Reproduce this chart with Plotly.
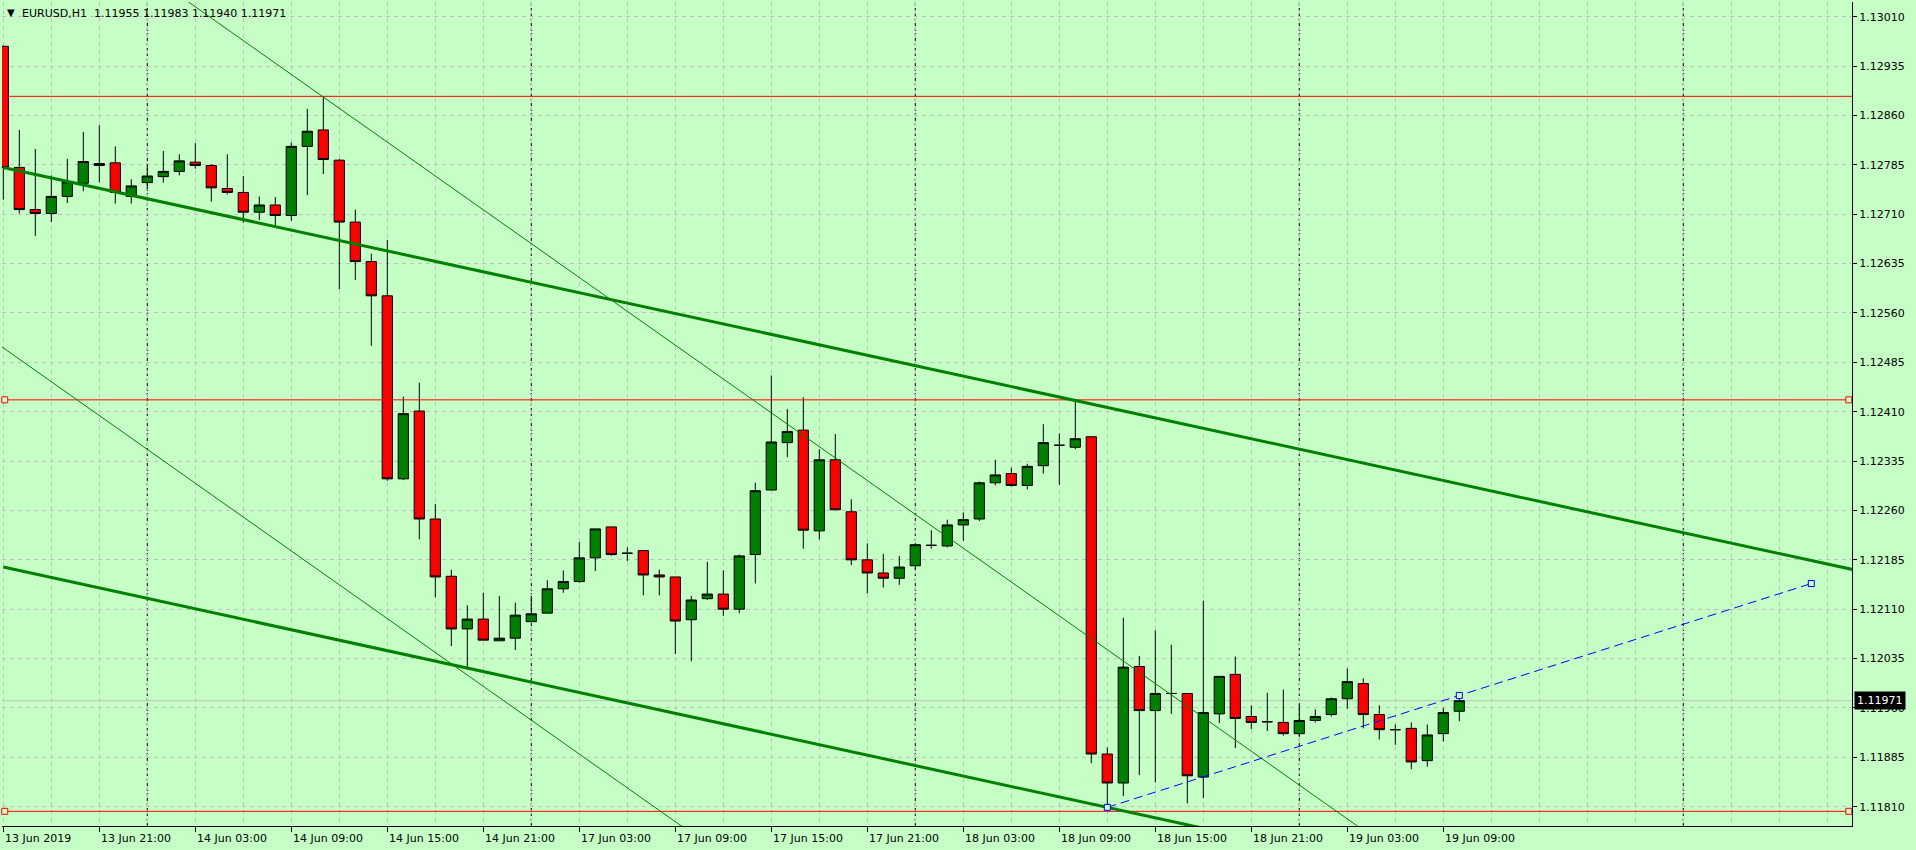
import plotly.graph_objects as go

# ---------------- data ----------------
bar_index = list(range(92))

opens = [1.12965, 1.12781, 1.12717, 1.12711, 1.12737, 1.12757, 1.12787, 1.12788, 1.12737, 1.12758,
         1.12767, 1.12775, 1.12789, 1.12784, 1.12749, 1.12743, 1.12713, 1.12724, 1.12708, 1.12813,
         1.12838, 1.12792, 1.12698, 1.12638, 1.12586, 1.12308, 1.12411, 1.12247, 1.12160, 1.12080,
         1.12095, 1.12062, 1.12066, 1.12091, 1.12104, 1.12141, 1.12152, 1.12188, 1.12235, 1.12195,
         1.12199, 1.12162, 1.12159, 1.12094, 1.12126, 1.12133, 1.12110, 1.12193, 1.12291, 1.12363,
         1.12382, 1.12229, 1.12337, 1.12258, 1.12185, 1.12165, 1.12157, 1.12176, 1.12207, 1.12206,
         1.12238, 1.12247, 1.12302, 1.12316, 1.12298, 1.12328, 1.12359, 1.12356, 1.12372, 1.11890,
         1.11846, 1.12023, 1.11956, 1.11982, 1.11982, 1.11855, 1.11951, 1.12011, 1.11947, 1.11939,
         1.11938, 1.11921, 1.11941, 1.11950, 1.11974, 1.11997, 1.11950, 1.11927, 1.11929, 1.11880,
         1.11921, 1.11955]
highs = [1.12966, 1.12838, 1.12809, 1.12769, 1.12794, 1.12835, 1.12845, 1.12813, 1.12763, 1.12786,
         1.12806, 1.12801, 1.12818, 1.12786, 1.12801, 1.12768, 1.12737, 1.12736, 1.12819, 1.12870,
         1.12888, 1.12794, 1.12717, 1.12650, 1.12671, 1.12433, 1.12454, 1.12270, 1.12170, 1.12116,
         1.12135, 1.12130, 1.12120, 1.12130, 1.12154, 1.12169, 1.12212, 1.12232, 1.12235, 1.12204,
         1.12200, 1.12170, 1.12159, 1.12130, 1.12182, 1.12169, 1.12193, 1.12302, 1.12465, 1.12414,
         1.12432, 1.12353, 1.12376, 1.12277, 1.12210, 1.12194, 1.12191, 1.12208, 1.12230, 1.12246,
         1.12257, 1.12304, 1.12337, 1.12325, 1.12331, 1.12391, 1.12377, 1.12428, 1.12373, 1.11900,
         1.12097, 1.12039, 1.12078, 1.12056, 1.11982, 1.12123, 1.12008, 1.12038, 1.11964, 1.11983,
         1.11988, 1.11965, 1.11958, 1.11976, 1.12020, 1.12005, 1.11964, 1.11935, 1.11938, 1.11935,
         1.11960, 1.11983]
lows = [1.12732, 1.12711, 1.12677, 1.12698, 1.12727, 1.12745, 1.12758, 1.12726, 1.12726, 1.12748,
        1.12758, 1.12769, 1.12779, 1.12729, 1.12740, 1.12697, 1.12701, 1.12692, 1.12700, 1.12739,
        1.12771, 1.12596, 1.12610, 1.12510, 1.12305, 1.12306, 1.12216, 1.12128, 1.12054, 1.12019,
        1.12063, 1.12062, 1.12048, 1.12091, 1.12104, 1.12135, 1.12150, 1.12168, 1.12191, 1.12183,
        1.12131, 1.12131, 1.12042, 1.12031, 1.12124, 1.12100, 1.12104, 1.12149, 1.12291, 1.12341,
        1.12202, 1.12216, 1.12261, 1.12177, 1.12134, 1.12143, 1.12147, 1.12171, 1.12202, 1.12204,
        1.12214, 1.12244, 1.12298, 1.12296, 1.12292, 1.12316, 1.12299, 1.12353, 1.11876, 1.11809,
        1.11826, 1.11858, 1.11847, 1.11951, 1.11815, 1.11823, 1.11937, 1.11899, 1.11928, 1.11925,
        1.11918, 1.11916, 1.11938, 1.11947, 1.11959, 1.11929, 1.11912, 1.11904, 1.11867, 1.11871,
        1.11909, 1.11940]
closes = [1.12781, 1.12717, 1.12711, 1.12737, 1.12759, 1.12790, 1.12784, 1.12743, 1.12753, 1.12768,
          1.12775, 1.12791, 1.12784, 1.12750, 1.12743, 1.12713, 1.12724, 1.12708, 1.12813, 1.12836,
          1.12793, 1.12698, 1.12638, 1.12586, 1.12308, 1.12407, 1.12247, 1.12159, 1.12080, 1.12095,
          1.12063, 1.12066, 1.12101, 1.12103, 1.12141, 1.12152, 1.12188, 1.12232, 1.12193, 1.12195,
          1.12162, 1.12159, 1.12092, 1.12124, 1.12133, 1.12110, 1.12191, 1.12290, 1.12364, 1.12380,
          1.12230, 1.12337, 1.12261, 1.12185, 1.12165, 1.12157, 1.12174, 1.12208, 1.12207, 1.12238,
          1.12246, 1.12302, 1.12314, 1.12298, 1.12327, 1.12363, 1.12359, 1.12369, 1.11890, 1.11846,
          1.12022, 1.11956, 1.11982, 1.11982, 1.11857, 1.11953, 1.12008, 1.11944, 1.11938, 1.11939,
          1.11921, 1.11941, 1.11947, 1.11974, 1.12000, 1.11950, 1.11927, 1.11927, 1.11878, 1.11919,
          1.11953, 1.11971]

price_ticks = [1.13010, 1.12935, 1.12860, 1.12785, 1.12710, 1.12635, 1.12560, 1.12485, 1.12410,
               1.12335, 1.12260, 1.12185, 1.12110, 1.12035, 1.11960, 1.11885, 1.11810]
time_tick_index = [0, 6, 12, 18, 24, 30, 36, 42, 48, 54, 60, 66, 72, 78, 84, 90]
time_tick_labels = ["13 Jun 2019", "13 Jun 21:00", "14 Jun 03:00", "14 Jun 09:00", "14 Jun 15:00",
                    "14 Jun 21:00", "17 Jun 03:00", "17 Jun 09:00", "17 Jun 15:00", "17 Jun 21:00",
                    "18 Jun 03:00", "18 Jun 09:00", "18 Jun 15:00", "18 Jun 21:00", "19 Jun 03:00",
                    "19 Jun 09:00"]
day_separator_index = [9, 33, 57, 81, 105]

hline_levels = [1.12889, 1.12428, 1.11803]
hline_selected = [False, True, True]

# trend lines: two anchor points (bar index, price)
channel_upper_x = [0, 67]
channel_upper_y = [1.12781, 1.12427]
channel_lower_x = [0, 69]
channel_lower_y = [1.12174, 1.11809]
thin_a_x = [20, 50]
thin_a_y = [1.12888, 1.12374]
thin_b_x = [0, 29]
thin_b_y = [1.12507, 1.12010]
blue_x = [69, 113]
blue_y = [1.11809, 1.12149]

symbol = "EURUSD,H1"

# ---------------- styling ----------------
BG = "#C6FFC6"
GRID = "#C0C0C0"
FONT = "DejaVu Sans"
W, H = 1916, 850
ML, MR, MT, MB = 2, 64, 2, 24
BAR_PX = 16.0
FIRST_BAR_PX = 3.3
x_lo = -(FIRST_BAR_PX - ML) / BAR_PX
x_hi = x_lo + (W - ML - MR) / BAR_PX
y_lo, y_hi = 1.117807, 1.130323


def ray(xs, ys, xa, xb):
    k = (ys[1] - ys[0]) / (xs[1] - xs[0])
    return [xa, xb], [ys[0] + k * (xa - xs[0]), ys[0] + k * (xb - xs[0])]


fig = go.Figure()

fig.add_trace(go.Candlestick(
    x=bar_index, open=opens, high=highs, low=lows, close=closes,
    increasing=dict(line=dict(color="black", width=1), fillcolor="#008000"),
    decreasing=dict(line=dict(color="black", width=1), fillcolor="#FF0000"),
    whiskerwidth=0, showlegend=False, hoverinfo="skip"))

# horizontal red levels
for lvl, sel in zip(hline_levels, hline_selected):
    fig.add_trace(go.Scatter(x=[x_lo - 1, x_hi + 1], y=[lvl, lvl], mode="lines",
                             line=dict(color="#FF0000", width=1), showlegend=False, hoverinfo="skip"))
    if sel:
        fig.add_trace(go.Scatter(x=[x_lo + 0.17, x_hi - 0.2], y=[lvl, lvl], mode="markers",
                                 marker=dict(symbol="square", size=6, color=BG,
                                             line=dict(color="#FF0000", width=1)),
                                 showlegend=False, hoverinfo="skip", cliponaxis=False))

# green trend lines
for xs, ys, wdt, xa in [(channel_upper_x, channel_upper_y, 3, channel_upper_x[0]),
                        (channel_lower_x, channel_lower_y, 3, channel_lower_x[0]),
                        (thin_a_x, thin_a_y, 1, -20),
                        (thin_b_x, thin_b_y, 1, -20)]:
    lx, ly = ray(xs, ys, xa, 140)
    fig.add_trace(go.Scatter(x=lx, y=ly, mode="lines", line=dict(color="#008000", width=wdt),
                             showlegend=False, hoverinfo="skip"))

# blue dashed trend line with anchor markers
fig.add_trace(go.Scatter(x=blue_x, y=blue_y, mode="lines",
                         line=dict(color="#0000FF", width=1, dash="9px,5px"),
                         showlegend=False, hoverinfo="skip"))
mid_x = (blue_x[0] + blue_x[1]) / 2
mid_y = (blue_y[0] + blue_y[1]) / 2
fig.add_trace(go.Scatter(x=[blue_x[0], mid_x, blue_x[1]], y=[blue_y[0], mid_y, blue_y[1]],
                         mode="markers",
                         marker=dict(symbol="square", size=6, color=BG, line=dict(color="#0000FF", width=1)),
                         showlegend=False, hoverinfo="skip"))

shapes = []
for d in day_separator_index:
    shapes.append(dict(type="line", xref="x", yref="paper", x0=d, x1=d, y0=0, y1=1,
                       line=dict(color="black", width=1, dash="3px,2px"), layer="between"))
# bid line
shapes.append(dict(type="line", xref="paper", yref="y", x0=0, x1=1, y0=closes[-1], y1=closes[-1],
                   line=dict(color="#C0C0C0", width=1), layer="between"))

annotations = []
for xi, lab in zip(time_tick_index, time_tick_labels):
    annotations.append(dict(x=xi, y=0, xref="x", yref="paper", text=lab, showarrow=False,
                            xanchor="left", yanchor="top", xshift=0, yshift=-4,
                            font=dict(family=FONT, size=11, color="black")))
annotations.append(dict(x=0, y=1, xref="paper", yref="paper", text="▼", showarrow=False,
                        xanchor="left", yanchor="top", xshift=3, yshift=-3,
                        font=dict(family=FONT, size=10, color="black")))
annotations.append(dict(x=0, y=1, xref="paper", yref="paper",
                        text=f"{symbol}  {opens[-1]:.5f} {highs[-1]:.5f} {lows[-1]:.5f} {closes[-1]:.5f}",
                        showarrow=False, xanchor="left", yanchor="top", xshift=18, yshift=-3,
                        font=dict(family=FONT, size=11, color="black")))
annotations.append(dict(x=1, y=closes[-1], xref="paper", yref="y", text=f"{closes[-1]:.5f}",
                        showarrow=False, xanchor="left", yanchor="middle", xshift=2,
                        bgcolor="black", borderpad=2,
                        font=dict(family=FONT, size=11, color="white")))

minor_vals = [i for i in range(0, 118, 3) if i not in time_tick_index]

fig.update_layout(
    width=W, height=H, margin=dict(l=ML, r=MR, t=MT, b=MB, pad=0),
    paper_bgcolor=BG, plot_bgcolor=BG,
    showlegend=False, boxgap=0.36, boxgroupgap=0,
    font=dict(family=FONT, size=11, color="black"),
    xaxis=dict(range=[x_lo, x_hi], type="linear", rangeslider=dict(visible=False),
               tickvals=time_tick_index, showticklabels=False, ticks="outside", ticklen=5,
               tickcolor="black", showline=True, linecolor="black", linewidth=1,
               showgrid=True, gridcolor=GRID, gridwidth=1, griddash="4px,4px", zeroline=False,
               minor=dict(tickvals=minor_vals, showgrid=True, gridcolor=GRID, gridwidth=1,
                          griddash="4px,4px", ticks="")),
    yaxis=dict(range=[y_lo, y_hi], side="right", tickvals=price_ticks, tickformat=".5f",
               ticks="outside", ticklen=4, tickcolor="black", showline=True, linecolor="black",
               linewidth=1, showgrid=True, gridcolor=GRID, gridwidth=1, griddash="4px,4px",
               zeroline=False, tickfont=dict(family=FONT, size=11, color="black")),
    shapes=shapes, annotations=annotations,
)

fig.write_html("out.html", config={"displayModeBar": False},
               post_script="document.body.style.margin='0';document.body.style.overflow='hidden';")
